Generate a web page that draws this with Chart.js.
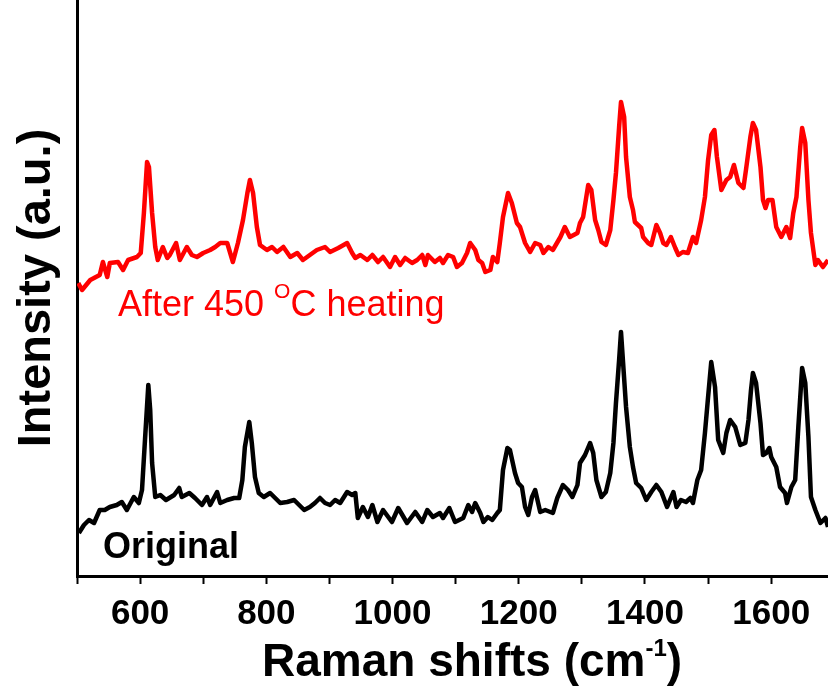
<!DOCTYPE html>
<html>
<head>
<meta charset="utf-8">
<script src="https://cdn.jsdelivr.net/npm/chart.js@4.4.1/dist/chart.umd.min.js"></script>
<style>
  body { margin: 0; background: #fff; }
  #wrap { width: 828px; height: 696px; }
</style>
</head>
<body>
<div id="wrap"><canvas id="raman" width="828" height="696"></canvas></div>
<script>
// Raman shift (cm-1) and intensity (a.u.)
let redShift = [
  502,508,521,536,541,548,552,565,573,581,
  595,601,606,611,614,619,624,628,636,643,
  647,657,663,674,682,690,700,711,719,727,
  738,747,755,763,770,774,779,785,790,801,
  809,817,827,838,849,858,869,880,893,901,
  914,928,936,941,949,960,968,977,985,996,
  1004,1012,1020,1031,1039,1047,1052,1056,1067,1075,
  1080,1088,1096,1102,1110,1118,1123,1131,1136,1142,
  1147,1155,1159,1166,1170,1175,1183,1189,1197,1202,
  1210,1218,1226,1234,1239,1247,1254,1266,1273,1281,
  1293,1297,1302,1310,1315,1321,1326,1331,1338,1345,
  1350,1354,1359,1362,1367,1370,1376,1381,1384,1389,
  1394,1397,1405,1410,1418,1424,1429,1434,1441,1448,
  1453,1460,1468,1476,1481,1489,1495,1500,1505,1510,
  1514,1521,1529,1535,1541,1548,1556,1560,1567,1571,
  1576,1583,1587,1591,1595,1602,1608,1616,1624,1630,
  1635,1640,1646,1649,1654,1659,1663,1670,1674,1682,
  1690
];
let redIntensity = [
  293,286,296,301,314,299,313,314,306,316,
  319,323,363,414,409,363,329,316,329,318,
  321,333,316,329,321,319,323,326,329,333,
  333,314,333,356,383,396,383,349,331,326,
  329,324,329,319,323,316,321,326,329,324,
  328,333,323,318,321,316,321,314,319,309,
  319,311,318,313,316,321,311,321,314,318,
  313,321,319,309,313,323,333,326,316,313,
  304,306,319,314,333,359,383,373,353,349,
  333,324,333,331,323,329,326,339,349,339,
  343,353,359,391,386,356,346,334,331,346,
  376,403,449,474,459,419,379,366,354,351,
  348,339,333,331,351,343,333,331,339,328,
  321,324,323,339,333,356,379,416,441,446,
  419,386,396,399,411,393,388,406,439,453,
  446,409,376,368,376,376,349,339,349,338,
  363,379,429,448,433,376,343,311,316,309,
  316
];

let blackShift = [
  503,511,519,527,536,544,552,563,571,579,
  590,598,603,608,613,616,619,624,632,641,
  654,662,666,678,687,698,706,711,722,727,
  738,749,757,762,766,773,777,782,788,796,
  806,814,822,833,844,852,860,869,877,885,
  893,901,909,917,928,936,941,945,953,961,
  968,976,985,999,1009,1023,1036,1047,1055,1064,
  1075,1080,1090,1099,1112,1120,1126,1131,1139,1144,
  1151,1158,1166,1170,1175,1182,1186,1194,1199,1205,
  1210,1215,1221,1226,1234,1242,1250,1254,1261,1270,
  1278,1285,1293,1297,1305,1313,1318,1323,1331,1338,
  1345,1350,1354,1359,1362,1365,1370,1376,1381,1386,
  1394,1402,1410,1418,1426,1435,1445,1450,1457,1465,
  1472,1476,1483,1489,1495,1500,1505,1511,1516,1524,
  1529,1535,1543,1551,1559,1564,1568,1571,1576,1583,
  1587,1592,1597,1600,1608,1614,1622,1625,1632,1638,
  1643,1649,1654,1659,1663,1670,1678,1686,1690
];
let blackIntensity = [
  43,51,56,53,66,66,69,71,74,66,
  79,73,86,139,191,166,113,79,81,76,
  81,88,79,83,78,71,79,71,84,73,
  76,78,78,96,129,154,133,99,83,79,
  83,78,73,74,76,71,66,69,73,78,
  73,71,76,73,84,81,83,58,69,59,
  71,54,66,54,68,53,64,54,66,59,
  63,58,68,54,58,71,64,73,63,54,
  59,56,63,66,106,128,126,103,93,89,
  69,61,79,86,64,66,64,63,78,91,
  86,79,91,113,121,133,123,96,79,84,
  103,133,173,216,244,216,169,129,109,93,
  88,76,84,91,84,69,84,69,76,74,
  78,73,96,106,143,179,214,189,136,123,
  143,156,149,131,133,156,186,203,193,153,
  121,123,128,119,109,89,83,73,89,96,
  149,208,193,139,79,66,53,58,49
];

// tick marks every 100 cm-1, labels every 200
let xTicks = [500, 600, 700, 800, 900, 1000, 1100, 1200, 1300, 1400, 1500, 1600];
let labelledTicks = [600, 800, 1000, 1200, 1400, 1600];

let fontFamily = '"Liberation Sans", Arial, sans-serif';

function toPoints(xs, ys) {
    return xs.map((x, i) => ({ x: x, y: ys[i] }));
}

// draws a piece of text, then a raised small part, then the rest
function supText(ctx, x, y, before, sup, after, size, supSize, rise) {
    ctx.font = ctx.font.replace(/\d+px/, size + 'px');
    ctx.fillText(before, x, y);
    x += ctx.measureText(before).width;
    ctx.font = ctx.font.replace(/\d+px/, supSize + 'px');
    ctx.fillText(sup, x, y - rise);
    x += ctx.measureText(sup).width;
    ctx.font = ctx.font.replace(/\d+px/, size + 'px');
    ctx.fillText(after, x, y);
}

const labelPlugin = {
    id: 'labels',
    afterDraw(chart) {
        const ctx = chart.ctx;
        ctx.save();
        ctx.textBaseline = 'alphabetic';
        ctx.textAlign = 'left';

        ctx.fillStyle = '#ff0000';
        ctx.font = '36px ' + fontFamily;
        supText(ctx, 118, 316, 'After 450 ', 'O', 'C heating', 36, 21, 18);

        ctx.fillStyle = '#000';
        ctx.font = 'bold 36px ' + fontFamily;
        ctx.fillText('Original', 103, 558);

        // x axis title
        ctx.font = 'bold 46px ' + fontFamily;
        supText(ctx, 262, 676, 'Raman shifts (cm', '-1', ')', 46, 24, 20);
        ctx.restore();
    }
};

new Chart(document.getElementById('raman'), {
    type: 'line',
    data: {
        datasets: [{
            label: 'After 450 °C heating',
            data: toPoints(redShift, redIntensity),
            borderColor: '#ff0000',
            borderWidth: 4.5,
            pointRadius: 0,
            borderJoinStyle: 'round',
            fill: false
        }, {
            label: 'Original',
            data: toPoints(blackShift, blackIntensity),
            borderColor: '#000000',
            borderWidth: 4.5,
            pointRadius: 0,
            borderJoinStyle: 'round',
            fill: false
        }]
    },
    options: {
        responsive: false,
        animation: false,
        layout: { padding: 0 },
        plugins: {
            legend: { display: false },
            tooltip: { enabled: false }
        },
        scales: {
            x: {
                type: 'linear',
                min: 500,
                max: 1690,
                afterBuildTicks: s => { s.ticks = xTicks.map(v => ({ value: v })); },
                afterFit: s => { s.height = 120; },
                border: { display: true, color: '#000', width: 3 },
                grid: {
                    display: true,
                    drawOnChartArea: false,
                    drawTicks: true,
                    tickLength: 8,
                    tickWidth: 2,
                    tickColor: '#000'
                },
                ticks: {
                    autoSkip: false,
                    maxRotation: 0,
                    minRotation: 0,
                    padding: 9,
                    color: '#000',
                    font: { family: fontFamily, size: 35, weight: 'bold' },
                    callback: function (v) {
                        let n = Math.round(Number(v));
                        return labelledTicks.indexOf(n) >= 0 ? String(n) : '';
                    }
                },
                title: { display: false }
            },
            y: {
                min: 0,
                max: 576,
                afterFit: s => { s.width = 77; },
                border: { display: true, color: '#000', width: 3 },
                grid: { display: false },
                ticks: { display: false },
                title: {
                    display: true,
                    text: 'Intensity (a.u.)',
                    color: '#000',
                    font: { family: fontFamily, size: 47, weight: 'bold' },
                    padding: { top: 9, bottom: 0 }
                }
            }
        }
    },
    plugins: [labelPlugin]
});
</script>
</body>
</html>
